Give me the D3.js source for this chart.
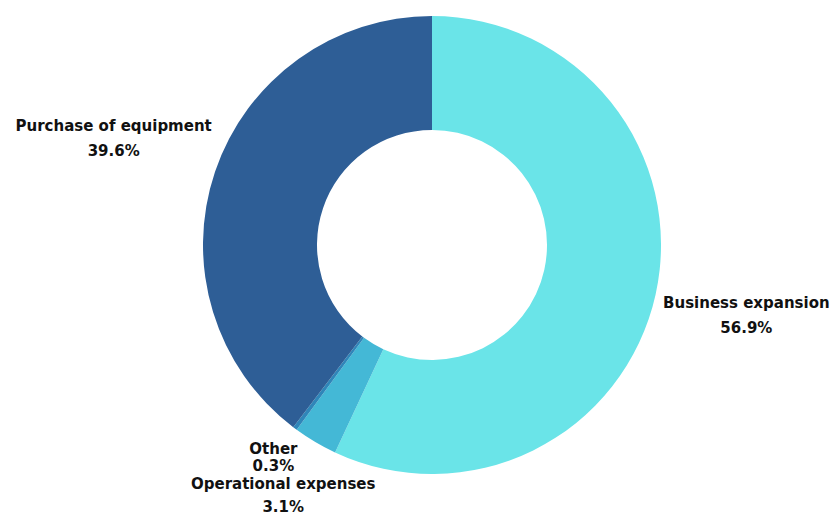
<!DOCTYPE html>
<html>
<head>
<meta charset="utf-8">
<script src="https://cdn.jsdelivr.net/npm/d3@7"></script>
<style>
  html, body { margin: 0; padding: 0; background: #ffffff; }
  svg { display: block; }
  .lbl { font-family: "DejaVu Sans", sans-serif; font-weight: 700; font-size: 15px; fill: #111111; }
</style>
</head>
<body>
<svg id="chart" width="833" height="515"></svg>
<script>
// Funding use breakdown (percent of total)
const categories = ["Business expansion", "Operational expenses", "Other", "Purchase of equipment"];
const values = [56.9, 3.1, 0.3, 39.6];
const colors = ["#6ae4e8", "#44b8d6", "#2f86b9", "#2e5e96"];

const width = 833, height = 515;
const cx = 432, cy = 245;
const outerR = 229, innerR = 115;
// distance from centre to each label's anchor, per slice
const labelDist = [322, 292, 265, 336];

const svg = d3.select("#chart");
const g = svg.append("g").attr("transform", `translate(${cx},${cy})`);

const pie = d3.pie().sort(null).value(d => d)(values);
const arc = d3.arc().innerRadius(innerR).outerRadius(outerR);
const color = d3.scaleOrdinal().domain(categories).range(colors);

g.selectAll("path.slice")
  .data(pie)
  .join("path")
  .attr("class", "slice")
  .attr("d", arc)
  .attr("fill", (d, i) => color(categories[i]));

const labels = g.selectAll("g.label")
  .data(pie)
  .join("g")
  .attr("class", "label")
  .attr("transform", (d, i) => {
    const a = (d.startAngle + d.endAngle) / 2;
    const r = labelDist[i];
    return `translate(${Math.sin(a) * r},${-Math.cos(a) * r})`;
  });

labels.append("text")
  .attr("class", "lbl")
  .attr("text-anchor", "middle")
  .attr("y", (d, i) => i === 2 ? -3 : -7)
  .text((d, i) => categories[i]);

labels.append("text")
  .attr("class", "lbl")
  .attr("text-anchor", "middle")
  .attr("y", (d, i) => i === 2 ? 14 : (i === 1 ? 16 : 18))
  .text((d, i) => values[i].toFixed(1) + "%");
</script>
</body>
</html>
